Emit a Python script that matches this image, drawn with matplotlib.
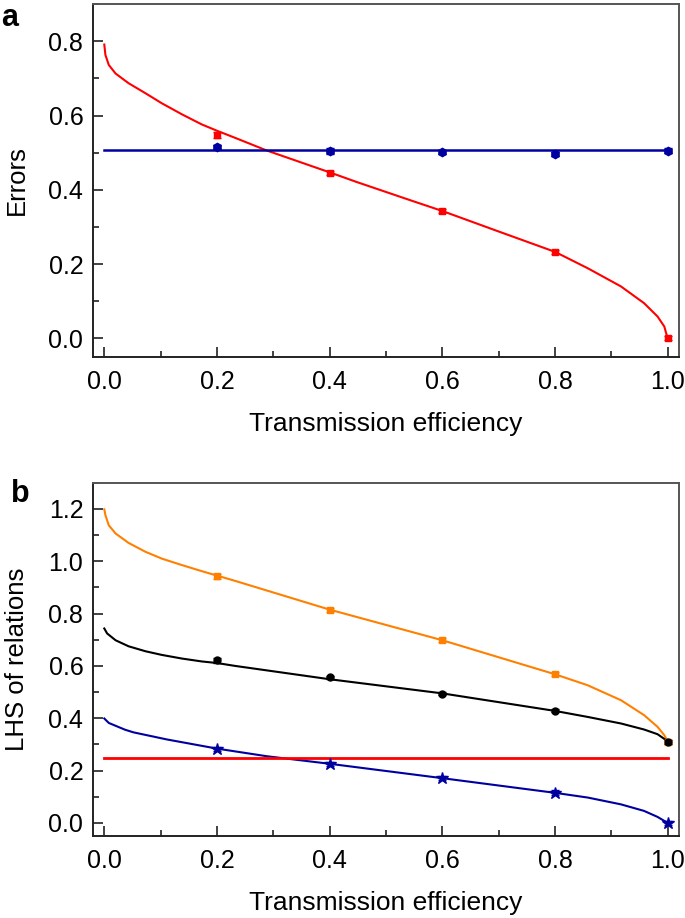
import matplotlib
matplotlib.use("Agg")

import matplotlib.pyplot as plt
from matplotlib.ticker import MultipleLocator

plt.rcParams["font.family"] = ["Liberation Sans", "DejaVu Sans"]

# ---- panel a: theory curves ----
eta_red_a = [0.0, 0.002, 0.008, 0.02, 0.043, 0.073, 0.102, 0.138, 0.173, 0.2, 0.232,
             0.288, 0.4, 0.448, 0.545, 0.6, 0.696, 0.8, 0.858, 0.917, 0.958, 0.982,
             0.994, 0.998, 1.0]
err_red_a = [0.791, 0.763, 0.736, 0.713, 0.687, 0.660, 0.633, 0.603, 0.576, 0.559, 0.540,
             0.506, 0.447, 0.421, 0.371, 0.343, 0.290, 0.233, 0.189, 0.140, 0.095, 0.059,
             0.032, 0.010, 0.0]
eta_blue_a = [0.0, 1.0]
err_blue_a = [0.506, 0.506]

# panel a: measured points
eta_pts = [0.2, 0.4, 0.6, 0.8, 1.0]
red_pts_a = [0.548, 0.445, 0.343, 0.233, 0.001]
red_sd_a = [0.008, 0.005, 0.005, 0.005, 0.006]
blue_pts_a = [0.515, 0.505, 0.502, 0.497, 0.505]
blue_sd_a = [0.006, 0.008, 0.005, 0.006, 0.007]

# ---- panel b: theory curves ----
eta_orange = [0.0, 0.002, 0.008, 0.02, 0.043, 0.073, 0.102, 0.138, 0.173, 0.2, 0.232,
              0.4, 0.6, 0.8, 0.858, 0.917, 0.958, 0.982, 0.994, 1.0]
lhs_orange = [1.198, 1.176, 1.137, 1.106, 1.070, 1.036, 1.010, 0.985, 0.962, 0.945, 0.925,
              0.815, 0.698, 0.568, 0.526, 0.469, 0.412, 0.367, 0.335, 0.312]
eta_black = [0.0, 0.005, 0.02, 0.043, 0.073, 0.102, 0.138, 0.173, 0.2, 0.232,
             0.4, 0.6, 0.8, 0.858, 0.917, 0.958, 0.982, 1.0]
lhs_black = [0.743, 0.724, 0.698, 0.675, 0.656, 0.642, 0.628, 0.617, 0.611, 0.600,
             0.549, 0.495, 0.428, 0.405, 0.380, 0.357, 0.339, 0.312]
eta_blue_b = [0.0, 0.008, 0.037, 0.052, 0.111, 0.2, 0.288, 0.4, 0.6, 0.8, 0.858,
              0.917, 0.958, 0.982, 1.0]
lhs_blue_b = [0.399, 0.382, 0.356, 0.346, 0.319, 0.284, 0.255, 0.226, 0.171, 0.115, 0.097,
              0.071, 0.046, 0.023, 0.0]
eta_red_b = [0.0, 1.0]
lhs_red_b = [0.25, 0.25]

# panel b: measured points
orange_pts = [0.943, 0.815, 0.698, 0.568, 0.310]
orange_sd = [0.010, 0.008, 0.007, 0.007, 0.008]
black_pts = [0.622, 0.556, 0.494, 0.428, 0.310]
black_sd = [0.010, 0.007, 0.006, 0.006, 0.008]
blue_pts_b = [0.282, 0.225, 0.171, 0.116, 0.0]
blue_sd_b = [0.008, 0.008, 0.007, 0.008, 0.006]

RED = "#ff0000"
NAVY = "#0000a0"
ORANGE = "#ff8000"

fig = plt.figure(figsize=(6.85, 9.18), dpi=100)
ax_a = fig.add_axes([0.1358, 0.6111, 0.8554, 0.3845])
ax_b = fig.add_axes([0.1358, 0.0893, 0.8554, 0.3849])


def style_axes(ax, ymax, ylabel):
    ax.set_xlim(-0.02, 1.02)
    ax.set_ylim(-0.05, ymax)
    ax.xaxis.set_major_locator(MultipleLocator(0.2))
    ax.xaxis.set_minor_locator(MultipleLocator(0.1))
    ax.yaxis.set_major_locator(MultipleLocator(0.2))
    ax.yaxis.set_minor_locator(MultipleLocator(0.1))
    ax.xaxis.set_major_formatter(plt.FormatStrFormatter("%.1f"))
    ax.yaxis.set_major_formatter(plt.FormatStrFormatter("%.1f"))
    ax.tick_params(which="both", direction="in", top=False, right=False,
                   width=1.2, labelsize=18, colors="#222222", labelcolor="black")
    ax.tick_params(which="major", length=7)
    ax.tick_params(which="minor", length=4)
    ax.tick_params(axis="x", which="major", pad=9)
    ax.tick_params(axis="y", which="major", pad=7)
    for side in ["left", "bottom"]:
        ax.spines[side].set_linewidth(1.4)
        ax.spines[side].set_color("#222222")
    for side in ["top", "right"]:
        ax.spines[side].set_linewidth(1.4)
        ax.spines[side].set_color("#555555")
    ax.set_xlabel("Transmission efficiency", fontsize=19, labelpad=13)
    ax.set_ylabel(ylabel, fontsize=18.5, labelpad=14)


# panel a
ax_a.plot(eta_red_a, err_red_a, color=RED, lw=1.5, zorder=2)
ax_a.plot(eta_blue_a, err_blue_a, color=NAVY, lw=1.8, zorder=2)
ax_a.errorbar(eta_pts, red_pts_a, yerr=red_sd_a, fmt="s", color=RED, ms=5,
              capsize=3, elinewidth=1, capthick=1, zorder=3)
ax_a.errorbar(eta_pts, blue_pts_a, yerr=blue_sd_a, fmt="h", color=NAVY, ms=6,
              capsize=3, elinewidth=1, capthick=1, zorder=3)
style_axes(ax_a, 0.9, "Errors")

# panel b
ax_b.plot(eta_orange, lhs_orange, color=ORANGE, lw=1.5, zorder=2)
ax_b.plot(eta_black, lhs_black, color="black", lw=1.5, zorder=2)
ax_b.plot(eta_blue_b, lhs_blue_b, color=NAVY, lw=1.5, zorder=2)
ax_b.plot(eta_red_b, lhs_red_b, color=RED, lw=2, zorder=2)
ax_b.errorbar(eta_pts, orange_pts, yerr=orange_sd, fmt="s", color=ORANGE, ms=5,
              capsize=3, elinewidth=1, capthick=1, zorder=3)
ax_b.errorbar(eta_pts, black_pts, yerr=black_sd, fmt="o", color="black", ms=5,
              capsize=3, elinewidth=1, capthick=1, zorder=3)
ax_b.errorbar(eta_pts, blue_pts_b, yerr=blue_sd_b, fmt="*", color=NAVY, ms=9,
              capsize=3, elinewidth=1, capthick=1, zorder=3)
style_axes(ax_b, 1.3, "LHS of relations")

fig.text(0.002, 0.997, "a", fontsize=22, fontweight="bold", va="top", ha="left")
fig.text(0.016, 0.478, "b", fontsize=22, fontweight="bold", va="top", ha="left")

fig.savefig("out.png", dpi=100)
plt.close(fig)
